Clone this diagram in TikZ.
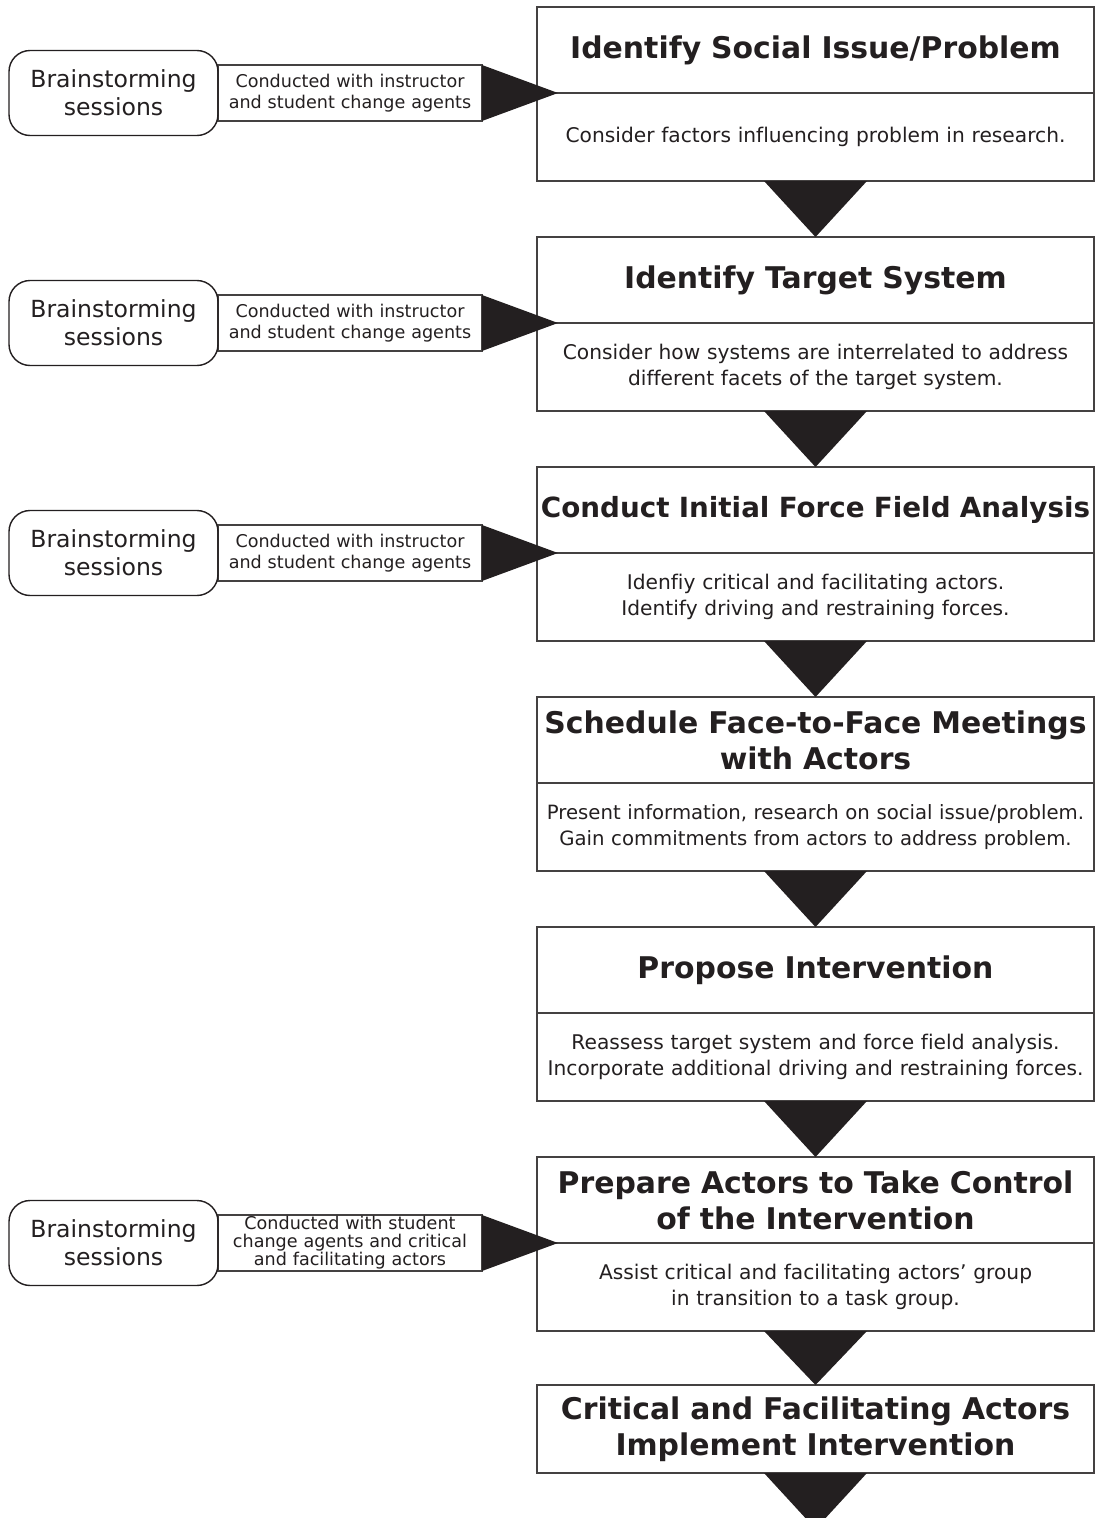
\documentclass[tikz,border=0pt]{standalone}
\usepackage{fontspec}
\setmainfont{DejaVu Sans}[Ligatures=NoCommon]
\usepackage{tikz}
\usetikzlibrary{positioning,calc}

\definecolor{ink}{RGB}{35,31,32}

\begin{document}
\begin{tikzpicture}[
    steptitle/.style={draw=ink!85, line width=0.8pt, rectangle, text width=11.14cm, minimum height=1.72cm,
        inner sep=0pt, outer sep=0pt, align=center, text=ink, font=\fontsize{17}{20.5}\selectfont\bfseries},
    stepbody/.style={draw=ink!85, line width=0.8pt, rectangle, text width=11.14cm, minimum height=1.76cm,
        inner sep=0pt, outer sep=0pt, align=center, text=ink, font=\fontsize{11.5}{14.8}\selectfont},
    session/.style={draw=ink, line width=0.8pt, rounded corners=12pt, text width=4.18cm, minimum height=1.7cm,
        inner sep=0pt, outer sep=0pt, align=center, text=ink, font=\fontsize{13.4}{16}\selectfont},
    note/.style={draw=ink!85, line width=0.8pt, fill=white, text width=5.28cm, minimum height=1.12cm,
        inner sep=0pt, outer sep=0pt, align=center, text=ink, font=\fontsize{10}{12}\selectfont},
]
    \useasboundingbox (0,0) rectangle (21.9,-30.36);

    % Main steps
    \node[steptitle, anchor=north west] (t1) at (10.74,-0.14) {Identify Social Issue/Problem};
    \node[stepbody, below=0pt of t1] (d1) {Consider factors influencing problem in research.};

    \node[steptitle, below=1.12cm of d1] (t2) {Identify Target System};
    \node[stepbody, below=0pt of t2] (d2) {Consider how systems are interrelated to address\\different facets of the target system.};

    \node[steptitle, below=1.12cm of d2, font=\fontsize{15.8}{20.5}\selectfont\bfseries] (t3) {Conduct Initial Force Field Analysis};
    \node[stepbody, below=0pt of t3] (d3) {Idenfiy critical and facilitating actors.\\Identify driving and restraining forces.};

    \node[steptitle, below=1.12cm of d3] (t4) {Schedule Face-to-Face Meetings\\with Actors};
    \node[stepbody, below=0pt of t4, font=\fontsize{11.2}{14.8}\selectfont] (d4) {Present information, research on social issue/problem.\\Gain commitments from actors to address problem.};

    \node[steptitle, below=1.12cm of d4] (t5) {Propose Intervention};
    \node[stepbody, below=0pt of t5] (d5) {Reassess target system and force field analysis.\\Incorporate additional driving and restraining forces.};

    \node[steptitle, below=1.12cm of d5] (t6) {Prepare Actors to Take Control\\of the Intervention};
    \node[stepbody, below=0pt of t6] (d6) {Assist critical and facilitating actors’ group\\in transition to a task group.};

    \node[steptitle, minimum height=1.76cm, below=1.08cm of d6] (t7) {Critical and Facilitating Actors\\Implement Intervention};
    \coordinate[below=1.12cm of t7] (tip);

    % Arrows between steps
    \foreach \a/\b in {d1/t2,d2/t3,d3/t4,d4/t5,d5/t6,d6/t7}
        \fill[ink] ($(\a.south)+(-1.03,0)$) -- ($(\a.south)+(1.03,0)$) -- (\b.north) -- cycle;
    \fill[ink] ($(t7.south)+(-1.03,0)$) -- ($(t7.south)+(1.03,0)$) -- (tip) -- cycle;

    % Brainstorming sessions
    \node[note, left=1.1cm of t1.south west] (n1) {Conducted with instructor\\and student change agents};
    \node[session, left=0pt of n1] (s1) {Brainstorming\\sessions};
    \fill[ink] (n1.north east) -- ($(t1.south west)+(0.42,0)$) -- (n1.south east) -- cycle;

    \node[note, left=1.1cm of t2.south west] (n2) {Conducted with instructor\\and student change agents};
    \node[session, left=0pt of n2] (s2) {Brainstorming\\sessions};
    \fill[ink] (n2.north east) -- ($(t2.south west)+(0.42,0)$) -- (n2.south east) -- cycle;

    \node[note, left=1.1cm of t3.south west] (n3) {Conducted with instructor\\and student change agents};
    \node[session, left=0pt of n3] (s3) {Brainstorming\\sessions};
    \fill[ink] (n3.north east) -- ($(t3.south west)+(0.42,0)$) -- (n3.south east) -- cycle;

    \node[note, left=1.1cm of t6.south west, font=\fontsize{10}{10.3}\selectfont] (n6) {Conducted with student\\change agents and critical\\and facilitating actors};
    \node[session, left=0pt of n6] (s6) {Brainstorming\\sessions};
    \fill[ink] (n6.north east) -- ($(t6.south west)+(0.42,0)$) -- (n6.south east) -- cycle;
\end{tikzpicture}
\end{document}
